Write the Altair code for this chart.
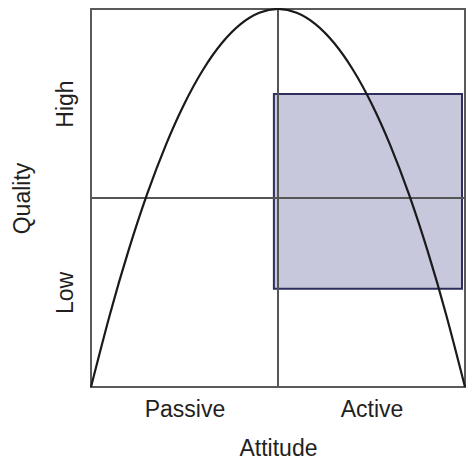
import altair as alt
import pandas as pd

# curve (attitude 0..1, quality 0..1)
curve_x = [0.0, 0.05, 0.10, 0.15, 0.20, 0.25, 0.30, 0.35, 0.40, 0.45, 0.50,
           0.55, 0.60, 0.65, 0.70, 0.75, 0.80, 0.85, 0.90, 0.95, 1.0]
curve_y = [0.0, 0.19, 0.36, 0.51, 0.64, 0.75, 0.84, 0.91, 0.96, 0.99, 1.0,
           0.99, 0.96, 0.91, 0.84, 0.75, 0.64, 0.51, 0.36, 0.19, 0.0]

# shaded region
box_x = [0.489, 0.992]
box_y = [0.26, 0.775]

# dividing lines
mid_x = [0.5]
mid_y = [0.5]

# plot frame (domain extents)
frame_x = [0.0, 1.0]
frame_y = [0.0, 1.0]

x_ticks = [0.25, 0.75]
x_labels = ["Passive", "Active"]
y_ticks = [0.25, 0.75]
y_labels = ["Low", "High"]

FONT = "Liberation Sans"
TXT = "#231f20"

curve_df = pd.DataFrame({"x": curve_x, "y": curve_y})
box_df = pd.DataFrame({"x": [box_x[0]], "x2": [box_x[1]], "y": [box_y[0]], "y2": [box_y[1]]})
frame_df = pd.DataFrame({"x": [frame_x[0]], "x2": [frame_x[1]], "y": [frame_y[0]], "y2": [frame_y[1]]})
vline_df = pd.DataFrame({"x": mid_x})
hline_df = pd.DataFrame({"y": mid_y})

xexpr = "datum.value < 0.5 ? '%s' : '%s'" % (x_labels[0], x_labels[1])
yexpr = "datum.value < 0.5 ? '%s' : '%s'" % (y_labels[0], y_labels[1])

xscale = alt.Scale(domain=[0, 1], nice=False, zero=False)
yscale = alt.Scale(domain=[0, 1], nice=False, zero=False)

xaxis = alt.Axis(values=x_ticks, labelExpr=xexpr, ticks=False, tickSize=0, domain=False, grid=False,
                 labelFontSize=23, labelFont=FONT, labelColor=TXT, labelPadding=11,
                 title="Attitude", titleFontSize=23, titleFont=FONT, titleFontWeight="normal",
                 titleColor=TXT, titlePadding=16)
yaxis = alt.Axis(values=y_ticks, labelExpr=yexpr, ticks=False, tickSize=0, domain=False, grid=False,
                 labelFontSize=23, labelFont=FONT, labelColor=TXT, labelPadding=19,
                 labelAngle=-90, labelAlign="center", labelBaseline="alphabetic",
                 title="Quality", titleFontSize=23, titleFont=FONT, titleFontWeight="normal",
                 titleColor=TXT, titlePadding=20)

box = alt.Chart(box_df).mark_rect(fill="#c8c8dc", stroke="#2e2e5e", strokeWidth=2).encode(
    x=alt.X("x:Q", scale=xscale, axis=xaxis),
    x2="x2:Q",
    y=alt.Y("y:Q", scale=yscale, axis=yaxis),
    y2="y2:Q",
)

frame = alt.Chart(frame_df).mark_rect(fillOpacity=0, fill="white", stroke="#5a5a5a", strokeWidth=2).encode(
    x=alt.X("x:Q", scale=xscale),
    x2="x2:Q",
    y=alt.Y("y:Q", scale=yscale),
    y2="y2:Q",
)

vline = alt.Chart(vline_df).mark_rule(color="#555555", strokeWidth=2).encode(
    x=alt.X("x:Q", scale=xscale)
)
hline = alt.Chart(hline_df).mark_rule(color="#555555", strokeWidth=2).encode(
    y=alt.Y("y:Q", scale=yscale)
)

curve = alt.Chart(curve_df).mark_line(color="#1a1a1a", strokeWidth=2.2, interpolate="natural").encode(
    x=alt.X("x:Q", scale=xscale),
    y=alt.Y("y:Q", scale=yscale),
)

chart = alt.layer(box, vline, hline, frame, curve).properties(
    width=374, height=378,
    autosize=alt.AutoSizeParams(type="none"),
    padding={"left": 83, "top": 1, "right": 1, "bottom": 69},
).configure_view(stroke=None).configure(background="white")

chart.save("out.html", embed_options={"renderer": "svg", "actions": False})
